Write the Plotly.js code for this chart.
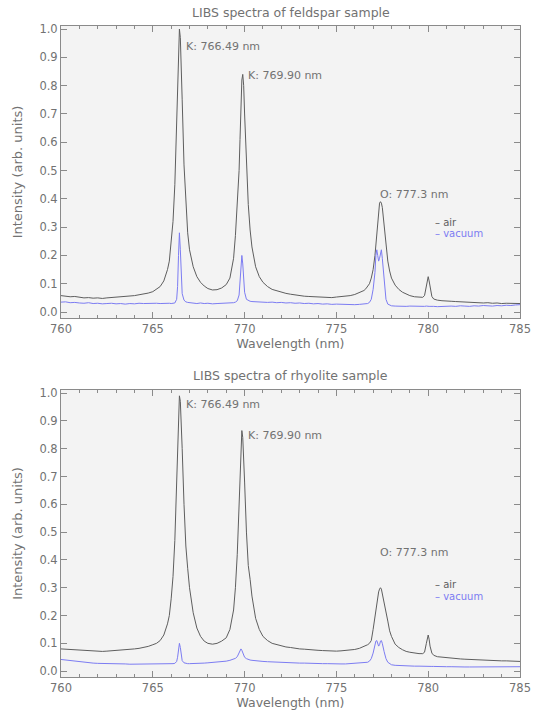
<!DOCTYPE html>
<html>
<head>
<meta charset="utf-8">
<script src="https://cdn.plot.ly/plotly-3.0.1.min.js"></script>
<style>html,body{margin:0;padding:0;background:#fff;}#chart{width:537px;height:712px;}</style>
</head>
<body>
<div id="chart"></div>
<script>
// Wavelength grid (nm), shared by all four spectra
const wavelength = [
  760,760.25,760.5,760.75,761,761.25,761.5,761.75,762,762.25,762.5,762.75,763,763.25,763.5,763.75,764,764.25,764.5,764.75,765,
  765.2,765.4,765.6,765.8,765.9,766,766.1,766.2,766.3,766.35,766.4,766.45,766.5,766.55,766.6,766.7,766.8,766.9,767,767.2,767.4,767.6,767.8,768,768.25,768.5,768.75,769,769.2,769.4,769.5,769.6,769.7,769.75,769.8,769.85,769.9,769.95,770,770.1,770.2,770.3,770.4,770.6,770.8,771,
  771.25,771.5,771.75,772,772.25,772.5,772.75,773,773.25,773.5,773.75,774,774.25,774.5,774.75,775,775.25,775.5,775.75,776,776.25,776.5,
  776.6,776.7,776.8,776.9,777,777.1,777.15,777.2,777.25,777.3,777.35,777.4,777.45,777.5,777.6,777.7,777.8,777.9,778,778.2,778.4,778.6,778.8,779,779.25,779.5,779.7,779.8,779.9,779.95,780,780.05,780.1,780.2,780.3,780.5,780.75,
  781,781.25,781.5,781.75,782,782.25,782.5,782.75,783,783.25,783.5,783.75,784,784.25,784.5,784.75,785
];

// Feldspar sample, air
const feldsparAir = [
  0.058,0.056,0.054,0.055,0.052,0.05,0.051,0.049,0.05,0.048,0.05,0.051,0.052,0.053,0.055,0.056,0.058,0.061,0.063,0.067,0.072,
  0.08,0.09,0.11,0.15,0.18,0.24,0.32,0.45,0.68,0.82,0.94,1.0,0.97,0.88,0.75,0.52,0.37,0.28,0.22,0.16,0.125,0.105,0.092,0.083,0.078,0.079,0.085,0.097,0.12,0.19,0.27,0.37,0.5,0.61,0.73,0.82,0.84,0.8,0.7,0.52,0.38,0.29,0.23,0.16,0.125,0.105,
  0.09,0.08,0.075,0.07,0.066,0.063,0.06,0.058,0.056,0.055,0.054,0.053,0.052,0.052,0.051,0.053,0.054,0.056,0.058,0.062,0.068,0.076,
  0.082,0.09,0.1,0.12,0.15,0.2,0.24,0.29,0.33,0.37,0.385,0.39,0.385,0.37,0.31,0.24,0.18,0.145,0.12,0.095,0.08,0.07,0.063,0.058,0.054,0.052,0.052,0.058,0.09,0.115,0.125,0.11,0.085,0.055,0.046,0.042,0.04,
  0.04,0.038,0.037,0.036,0.035,0.034,0.035,0.033,0.032,0.033,0.031,0.032,0.03,0.031,0.03,0.031,0.03
];

// Feldspar sample, vacuum
const feldsparVacuum = [
  0.035,0.036,0.033,0.034,0.032,0.031,0.033,0.03,0.031,0.029,0.03,0.031,0.029,0.03,0.028,0.03,0.029,0.031,0.03,0.031,0.03,
  0.031,0.03,0.031,0.03,0.031,0.03,0.031,0.032,0.045,0.09,0.2,0.28,0.22,0.12,0.065,0.042,0.036,0.034,0.033,0.031,0.03,0.032,0.03,0.031,0.029,0.03,0.031,0.03,0.032,0.033,0.035,0.04,0.06,0.1,0.16,0.2,0.17,0.11,0.07,0.045,0.04,0.038,0.037,0.036,0.035,0.036,
  0.034,0.035,0.033,0.034,0.032,0.033,0.031,0.032,0.03,0.031,0.029,0.03,0.028,0.029,0.027,0.028,0.027,0.026,0.027,0.026,0.027,0.028,
  0.028,0.03,0.034,0.045,0.08,0.14,0.2,0.22,0.2,0.18,0.19,0.21,0.22,0.19,0.1,0.045,0.028,0.024,0.022,0.021,0.02,0.021,0.02,0.021,0.02,0.019,0.02,0.02,0.021,0.02,0.021,0.02,0.02,0.019,0.02,0.019,0.02,
  0.02,0.021,0.02,0.022,0.021,0.02,0.022,0.021,0.023,0.022,0.021,0.023,0.022,0.024,0.023,0.025,0.026
];

// Rhyolite sample, air
const rhyoliteAir = [
  0.08,0.079,0.078,0.077,0.075,0.074,0.073,0.072,0.072,0.071,0.072,0.073,0.074,0.075,0.076,0.078,0.08,0.082,0.085,0.089,0.095,
  0.1,0.11,0.13,0.17,0.2,0.26,0.34,0.47,0.68,0.82,0.94,0.99,0.97,0.9,0.8,0.6,0.45,0.37,0.3,0.21,0.155,0.125,0.108,0.1,0.097,0.1,0.108,0.12,0.15,0.22,0.3,0.42,0.62,0.74,0.84,0.865,0.84,0.77,0.68,0.5,0.38,0.33,0.27,0.19,0.15,0.125,
  0.11,0.1,0.095,0.09,0.087,0.085,0.082,0.08,0.079,0.077,0.076,0.075,0.074,0.073,0.073,0.072,0.073,0.074,0.076,0.078,0.082,0.088,
  0.09,0.095,0.1,0.11,0.15,0.2,0.22,0.245,0.265,0.285,0.295,0.3,0.295,0.28,0.25,0.22,0.18,0.145,0.125,0.097,0.085,0.077,0.071,0.068,0.065,0.063,0.063,0.068,0.1,0.122,0.13,0.115,0.09,0.065,0.057,0.052,0.05,
  0.048,0.046,0.045,0.044,0.043,0.042,0.041,0.04,0.04,0.039,0.038,0.038,0.037,0.037,0.036,0.036,0.035
];

// Rhyolite sample, vacuum
const rhyoliteVacuum = [
  0.042,0.04,0.037,0.035,0.033,0.031,0.03,0.029,0.028,0.028,0.027,0.027,0.026,0.026,0.026,0.025,0.025,0.025,0.026,0.025,0.025,
  0.025,0.026,0.025,0.026,0.026,0.026,0.027,0.028,0.035,0.05,0.08,0.1,0.085,0.055,0.038,0.03,0.028,0.027,0.027,0.027,0.028,0.028,0.029,0.03,0.031,0.032,0.034,0.036,0.039,0.043,0.046,0.052,0.065,0.075,0.08,0.075,0.065,0.055,0.05,0.045,0.042,0.04,0.039,0.037,0.036,0.035,
  0.034,0.033,0.032,0.032,0.031,0.03,0.03,0.029,0.029,0.028,0.028,0.027,0.027,0.027,0.026,0.026,0.026,0.026,0.027,0.027,0.028,0.029,
  0.03,0.032,0.036,0.045,0.065,0.095,0.108,0.11,0.1,0.09,0.095,0.108,0.11,0.1,0.07,0.045,0.032,0.026,0.023,0.021,0.02,0.019,0.019,0.018,0.018,0.018,0.017,0.017,0.018,0.018,0.018,0.017,0.017,0.017,0.017,0.016,0.016,
  0.016,0.016,0.015,0.015,0.015,0.015,0.015,0.015,0.015,0.015,0.015,0.015,0.016,0.015,0.015,0.016,0.016
];

const panelTitles = ["LIBS spectra of feldspar sample", "LIBS spectra of rhyolite sample"];
const seriesNames = ["air", "vacuum"];
const peakLabels = ["K: 766.49 nm", "K: 769.90 nm", "O: 777.3 nm"];
const xTitle = "Wavelength (nm)";
const yTitle = "Intensity (arb. units)";

const airColor = "#5e5e5e";
const vacColor = "#7c7cf2";
const textColor = "#727272";
const axisColor = "#8a8a8a";
const FONT = "DejaVu Sans, sans-serif";

const traces = [
  {x: wavelength, y: feldsparAir, xaxis: "x", yaxis: "y", mode: "lines", line: {color: airColor, width: 1}, name: seriesNames[0]},
  {x: wavelength, y: feldsparVacuum, xaxis: "x", yaxis: "y", mode: "lines", line: {color: vacColor, width: 1}, name: seriesNames[1]},
  {x: wavelength, y: rhyoliteAir, xaxis: "x2", yaxis: "y2", mode: "lines", line: {color: airColor, width: 1}, name: seriesNames[0]},
  {x: wavelength, y: rhyoliteVacuum, xaxis: "x2", yaxis: "y2", mode: "lines", line: {color: vacColor, width: 1}, name: seriesNames[1]}
];

function xax(anchor) {
  return {
    anchor: anchor, domain: [0, 1], range: [760, 785], dtick: 5, tick0: 760,
    ticks: "inside", ticklen: 6, tickcolor: axisColor, tickwidth: 1,
    minor: {dtick: 1, ticks: "inside", ticklen: 3, tickcolor: axisColor},
    showline: true, linecolor: axisColor, linewidth: 1, mirror: "allticks",
    showgrid: false, zeroline: false,
    tickfont: {family: FONT, size: 11.5, color: textColor},
    title: {text: xTitle, font: {family: FONT, size: 12.5, color: textColor}, standoff: 2},
    automargin: false
  };
}
function yax(anchor, dom) {
  return {
    anchor: anchor, domain: dom, range: [-0.021, 1.011], dtick: 0.1, tick0: 0, tickformat: ".1f",
    ticks: "inside", ticklen: 6, tickcolor: axisColor, tickwidth: 1,
    showline: true, linecolor: axisColor, linewidth: 1, mirror: "allticks",
    showgrid: false, zeroline: false,
    tickfont: {family: FONT, size: 11.5, color: textColor},
    title: {text: yTitle, font: {family: FONT, size: 13, color: textColor}, standoff: 13},
    automargin: false
  };
}

function panelAnnots(xr, yr, ys) {
  const base = {xref: xr, yref: yr, xanchor: "left", yanchor: "middle", showarrow: false, font: {family: FONT, size: 11, color: textColor}};
  return [
    Object.assign({}, base, {x: 766.72, y: ys[0], text: peakLabels[0]}),
    Object.assign({}, base, {x: 770.05, y: ys[1], text: peakLabels[1]}),
    Object.assign({}, base, {x: 777.25, y: ys[2], text: peakLabels[2]}),
    Object.assign({}, base, {x: 780.25, y: ys[3], text: "– " + seriesNames[0], font: {family: FONT, size: 10, color: airColor}}),
    Object.assign({}, base, {x: 780.25, y: ys[4], text: "– " + seriesNames[1], font: {family: FONT, size: 10, color: vacColor}})
  ];
}

const titleFont = {family: FONT, size: 12.5, color: textColor};
const annotations = [
  {xref: "paper", yref: "paper", x: 0.5, y: 1.0215, xanchor: "center", yanchor: "middle", showarrow: false, text: panelTitles[0], font: titleFont},
  {xref: "paper", yref: "paper", x: 0.5, y: 0.4639, xanchor: "center", yanchor: "middle", showarrow: false, text: panelTitles[1], font: titleFont}
].concat(panelAnnots("x", "y", [0.94, 0.837, 0.417, 0.318, 0.276]))
 .concat(panelAnnots("x2", "y2", [0.957, 0.849, 0.427, 0.31, 0.267]));

const layout = {
  width: 537, height: 712,
  margin: {l: 61, r: 17, t: 26, b: 35},
  paper_bgcolor: "#ffffff", plot_bgcolor: "#f3f3f3",
  showlegend: false,
  xaxis: xax("y"), yaxis: yax("x", [0.5515, 1]),
  xaxis2: xax("y2"), yaxis2: yax("x2", [0, 0.4409]),
  annotations: annotations
};

Plotly.newPlot("chart", traces, layout, {staticPlot: true, displayModeBar: false});
</script>
</body>
</html>
